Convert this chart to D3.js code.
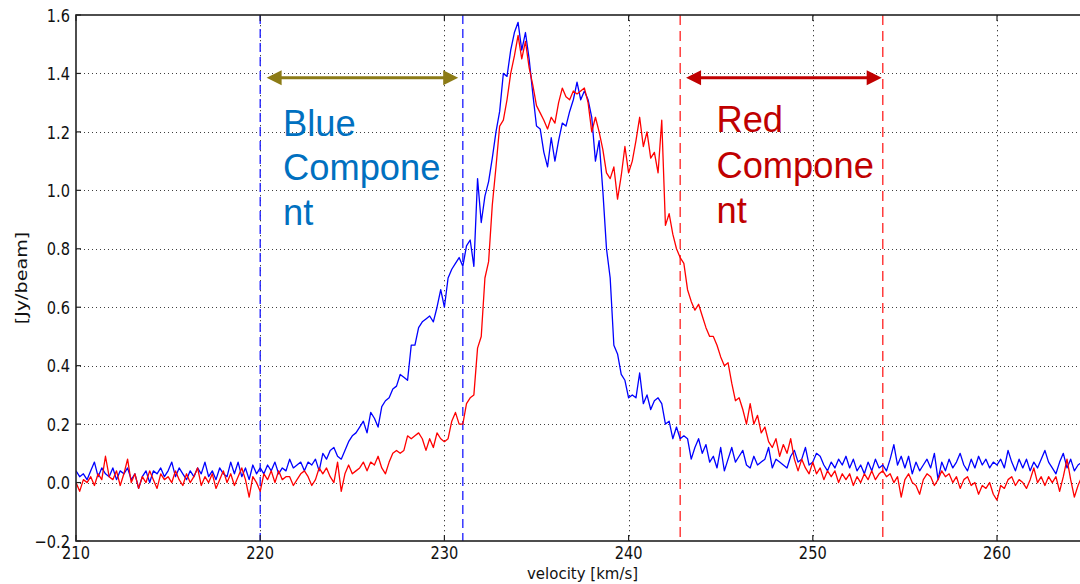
<!DOCTYPE html>
<html>
<head>
<meta charset="utf-8">
<script src="https://cdn.jsdelivr.net/npm/d3@7"></script>
<style>
  body { margin: 0; background: #fff; }
  svg { display: block; }
</style>
</head>
<body>
<svg id="chart" width="1080" height="584"></svg>
<script>
// Spectral channels: uniform 0.2 km/s spacing starting at 210 km/s
const channelStart = 210.0;
const channelWidth = 0.2;

// Flux density per channel [Jy/beam]
const blueSpectrum = [
  0.04,0.02,0.03,0.01,0.04,0.07,0.02,0.05,0.03,0.02,
  0.05,0.01,0.04,0.03,0.05,0.01,0.03,-0.02,0.02,0.04,
  0.00,0.04,0.03,0.05,0.02,0.04,0.07,0.02,0.05,0.03,
  0.01,0.04,0.02,0.05,0.03,0.07,0.02,0.04,0.01,0.05,
  0.03,0.02,0.07,0.03,0.07,0.02,0.05,0.01,0.06,0.03,
  0.05,0.03,0.06,0.04,0.07,0.03,0.05,0.04,0.08,0.05,
  0.06,0.07,0.04,0.07,0.06,0.08,0.04,0.10,0.08,0.11,
  0.12,0.09,0.08,0.11,0.14,0.16,0.17,0.19,0.21,0.17,
  0.24,0.22,0.19,0.26,0.28,0.29,0.32,0.33,0.37,0.36,
  0.35,0.47,0.47,0.53,0.55,0.56,0.57,0.55,0.60,0.66,
  0.60,0.70,0.73,0.75,0.77,0.74,0.81,0.83,0.74,1.04,
  0.89,0.98,1.03,1.11,1.20,1.27,1.40,1.39,1.48,1.54,
  1.575,1.48,1.54,1.45,1.33,1.22,1.21,1.13,1.08,1.18,
  1.10,1.17,1.23,1.22,1.27,1.31,1.37,1.31,1.34,1.31,
  1.25,1.10,1.17,1.00,0.80,0.70,0.47,0.44,0.37,0.35,
  0.29,0.30,0.29,0.375,0.27,0.30,0.25,0.28,0.29,0.27,
  0.20,0.21,0.15,0.19,0.15,0.16,0.15,0.08,0.12,0.15,
  0.10,0.13,0.07,0.09,0.05,0.12,0.04,0.08,0.12,0.07,
  0.09,0.11,0.06,0.05,0.09,0.06,0.07,0.08,0.12,0.05,
  0.08,0.07,0.06,0.05,0.09,0.11,0.07,0.08,0.12,0.06,
  0.07,0.10,0.09,0.06,0.04,0.07,0.05,0.08,0.06,0.09,
  0.05,0.08,0.04,0.06,0.03,0.07,0.04,0.08,0.05,0.06,
  0.04,0.08,0.13,0.06,0.09,0.05,0.09,0.03,0.07,0.04,
  0.06,0.08,0.05,0.10,0.01,0.07,0.04,0.08,0.05,0.07,
  0.10,0.06,0.04,0.08,0.05,0.09,0.06,0.08,0.05,0.07,
  0.06,0.08,0.05,0.11,0.07,0.04,0.08,0.05,0.08,0.04,
  0.07,0.05,0.08,0.11,0.07,0.05,0.03,0.07,0.10,0.05,
  0.08,0.04,0.06,0.07,0.05,0.06
];

const redSpectrum = [
  0.00,-0.03,0.01,0.00,0.02,-0.01,0.03,0.01,0.09,0.02,
  0.01,0.04,-0.01,0.03,0.08,0.00,0.03,-0.02,0.02,0.00,
  0.04,0.01,-0.02,0.03,0.01,0.02,0.00,0.04,0.01,-0.01,
  0.03,0.00,0.02,0.05,-0.01,0.02,0.00,0.03,-0.02,0.01,
  0.04,0.00,0.03,-0.01,0.02,0.05,0.01,-0.05,0.02,0.00,
  -0.03,0.03,0.01,0.04,0.00,0.04,0.01,0.02,0.02,-0.01,
  0.01,0.03,0.04,0.02,-0.01,0.01,0.05,0.03,0.05,0.02,
  0.00,0.07,-0.03,0.03,0.06,0.03,0.04,0.05,0.07,0.04,
  0.07,0.06,0.09,0.05,0.03,0.07,0.10,0.11,0.10,0.11,
  0.16,0.15,0.16,0.17,0.15,0.11,0.15,0.12,0.17,0.15,
  0.14,0.15,0.21,0.24,0.20,0.20,0.27,0.29,0.30,0.46,
  0.50,0.70,0.756,0.95,1.08,1.22,1.24,1.31,1.40,1.46,
  1.53,1.45,1.51,1.42,1.36,1.29,1.265,1.24,1.21,1.25,
  1.23,1.30,1.35,1.32,1.31,1.34,1.33,1.34,1.35,1.30,
  1.20,1.25,1.20,1.14,1.06,1.04,1.08,0.97,1.05,1.15,
  1.06,1.10,1.17,1.25,1.15,1.20,1.11,1.13,1.06,1.24,
  0.88,0.92,0.85,0.80,0.77,0.75,0.66,0.62,0.59,0.61,
  0.57,0.53,0.50,0.50,0.47,0.43,0.40,0.41,0.34,0.28,
  0.29,0.25,0.20,0.27,0.20,0.23,0.17,0.19,0.14,0.12,
  0.15,0.09,0.13,0.10,0.15,0.08,0.04,0.08,0.05,0.03,
  0.07,0.03,0.05,0.01,0.04,0.02,0.04,0.00,0.03,0.01,
  0.03,-0.01,0.02,0.00,0.03,0.01,0.04,0.01,0.03,0.04,
  0.02,0.03,0.00,0.02,-0.05,0.01,0.03,0.00,-0.01,-0.04,
  0.01,0.03,0.02,-0.01,0.01,0.04,0.02,0.03,0.00,0.02,
  -0.02,0.01,0.02,-0.01,0.00,-0.04,-0.01,-0.02,0.00,-0.04,
  -0.06,-0.01,-0.02,0.01,0.02,-0.01,0.01,0.00,-0.02,0.01,
  0.05,0.00,0.02,-0.01,0.02,0.00,0.02,-0.03,0.02,0.08,
  0.01,-0.05,-0.01,0.02,-0.02,0.01
];

// Axis ticks
const xTicks = [210, 220, 230, 240, 250, 260, 270];
const yTicks = [-0.2, 0.0, 0.2, 0.4, 0.6, 0.8, 1.0, 1.2, 1.4, 1.6];

// Velocity windows of the two components [km/s]
const blueWindow = [220.0, 231.0];
const redWindow = [242.8, 253.8];
// Arrow extents and height
const blueArrow = [220.35, 230.75];
const redArrow = [243.12, 253.74];
const arrowLevel = 1.385;
// Annotation text
const blueLabel = ["Blue", "Compone", "nt"];
const redLabel = ["Red", "Compone", "nt"];
const blueLabelAt = 221.24;
const redLabelAt = 244.77;

const velocities = blueSpectrum.map((_, i) => channelStart + i * channelWidth);

const svg = d3.select("#chart");
const W = 1080, H = 584;
const plot = { left: 76, top: 15, right: 1089.1, bottom: 541 };
const stretch = 1.26; // glyph aspect of the axis text

svg.append("rect").attr("width", W).attr("height", H).attr("fill", "#fff");

const x = d3.scaleLinear().domain([210, 265]).range([plot.left, plot.right]);
const y = d3.scaleLinear().domain([-0.2, 1.6]).range([plot.bottom, plot.top]);

const defs = svg.append("defs");
defs.append("clipPath").attr("id", "plotClip")
  .append("rect")
  .attr("x", plot.left).attr("y", plot.top)
  .attr("width", plot.right - plot.left).attr("height", plot.bottom - plot.top);

// Grid
const grid = svg.append("g").attr("stroke", "#000").attr("stroke-width", 1).attr("opacity", 0.75);
grid.selectAll("line.h").data(yTicks.slice(1, -1)).join("line")
  .attr("x1", plot.left).attr("x2", plot.right)
  .attr("y1", d => Math.round(y(d)) + 0.5).attr("y2", d => Math.round(y(d)) + 0.5)
  .attr("stroke-dasharray", "1,3");
grid.selectAll("line.v").data(xTicks.slice(1)).join("line")
  .attr("x1", d => Math.round(x(d)) + 0.5).attr("x2", d => Math.round(x(d)) + 0.5)
  .attr("y1", plot.top).attr("y2", plot.bottom)
  .attr("stroke-dasharray", "1.3,3.7");

const body = svg.append("g").attr("clip-path", "url(#plotClip)");

// Component window markers
function windowLines(vals, color, dash) {
  body.append("g").selectAll("line").data(vals).join("line")
    .attr("x1", d => x(d)).attr("x2", d => x(d))
    .attr("y1", plot.top).attr("y2", plot.bottom)
    .attr("stroke", color).attr("stroke-width", 1.3)
    .attr("stroke-dasharray", dash);
}
windowLines(blueWindow, "#1a1aff", "9,5");
windowLines(redWindow, "#ff2020", "10,6");

// Spectra
const line = d3.line().x((d, i) => x(velocities[i])).y(d => y(d));
body.append("path").datum(blueSpectrum)
  .attr("fill", "none").attr("stroke", "#0000ff").attr("stroke-width", 1.3)
  .attr("stroke-linejoin", "round").attr("d", line);
body.append("path").datum(redSpectrum)
  .attr("fill", "none").attr("stroke", "#ff0000").attr("stroke-width", 1.3)
  .attr("stroke-linejoin", "round").attr("d", line);

// Frame
svg.append("rect")
  .attr("x", plot.left).attr("y", plot.top)
  .attr("width", plot.right - plot.left).attr("height", plot.bottom - plot.top)
  .attr("fill", "none").attr("stroke", "#222").attr("stroke-width", 1.6);

// Inward tick marks
const ticks = svg.append("g").attr("stroke", "#222").attr("stroke-width", 1.2);
yTicks.forEach(v => {
  const yy = y(v);
  ticks.append("line").attr("x1", plot.left).attr("x2", plot.left + 5).attr("y1", yy).attr("y2", yy);
  ticks.append("line").attr("x1", plot.right).attr("x2", plot.right - 5).attr("y1", yy).attr("y2", yy);
});
xTicks.forEach(v => {
  const xx = x(v);
  ticks.append("line").attr("x1", xx).attr("x2", xx).attr("y1", plot.bottom).attr("y2", plot.bottom - 6);
  ticks.append("line").attr("x1", xx).attr("x2", xx).attr("y1", plot.top).attr("y2", plot.top + 6);
});

// Tick labels
const font = "'DejaVu Sans', sans-serif";
const tickFont = 14.6;
const fmtY = d3.format(".1f");
yTicks.forEach(v => {
  svg.append("text")
    .attr("transform", `translate(${plot.left - 6},${y(v)}) scale(1,${stretch})`)
    .attr("dy", "0.36em")
    .attr("text-anchor", "end")
    .attr("font-family", font).attr("font-size", tickFont).attr("fill", "#111")
    .text(fmtY(v).replace("-", "\u2212"));
});
xTicks.filter(v => x(v) < W).forEach(v => {
  svg.append("text")
    .attr("transform", `translate(${x(v)},${plot.bottom + 5}) scale(1,${stretch})`)
    .attr("dy", "0.73em")
    .attr("text-anchor", "middle")
    .attr("font-family", font).attr("font-size", tickFont).attr("fill", "#111")
    .text(v);
});

// Axis titles
svg.append("text")
  .attr("transform", `translate(${(plot.left + plot.right) / 2},579.3) scale(1,1.1)`)
  .attr("text-anchor", "middle")
  .attr("font-family", font).attr("font-size", 15).attr("fill", "#111")
  .text("velocity [km/s]");
svg.append("text")
  .attr("transform", `translate(27,${(plot.top + plot.bottom) / 2}) rotate(-90) scale(${stretch},1)`)
  .attr("text-anchor", "middle")
  .attr("font-family", font).attr("font-size", 15.2).attr("fill", "#111")
  .text("[Jy/beam]");

// Double-headed arrows
function arrow(span, color) {
  const x0 = x(span[0]), x1 = x(span[1]), yy = y(arrowLevel);
  const hl = 15, hw = 7.5;
  const g = svg.append("g");
  g.append("line").attr("x1", x0 + hl - 1).attr("x2", x1 - hl + 1)
    .attr("y1", yy).attr("y2", yy)
    .attr("stroke", color).attr("stroke-width", 3);
  g.append("path")
    .attr("d", `M${x0},${yy} L${x0 + hl},${yy - hw} L${x0 + hl},${yy + hw} Z`)
    .attr("fill", color);
  g.append("path")
    .attr("d", `M${x1},${yy} L${x1 - hl},${yy - hw} L${x1 - hl},${yy + hw} Z`)
    .attr("fill", color);
}
arrow(blueArrow, "#8c7b16");
arrow(redArrow, "#c00000");

// Component labels
function label(lines, at, color, offsets) {
  const t = svg.append("text")
    .attr("font-family", "'Liberation Sans', Arial, sans-serif")
    .attr("font-size", 36.3).attr("fill", color);
  lines.forEach((s, i) => {
    t.append("tspan").attr("x", x(at)).attr("y", y(arrowLevel) + offsets[i]).text(s);
  });
}
label(blueLabel, blueLabelAt, "#0070c0", [58, 102, 147.5]);
label(redLabel, redLabelAt, "#c00000", [53.7, 100, 145]);
</script>
</body>
</html>
